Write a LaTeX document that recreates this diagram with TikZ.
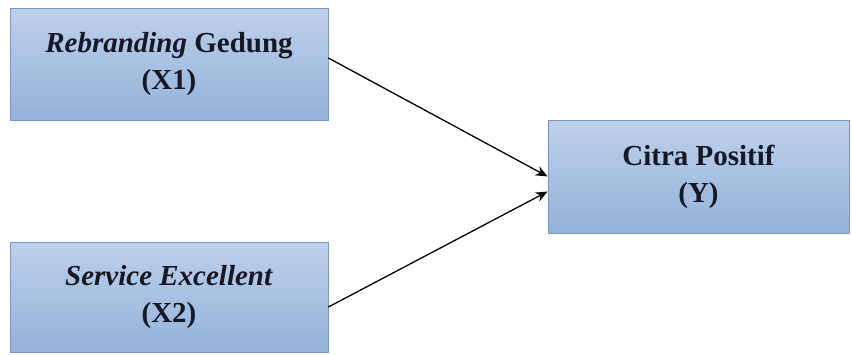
\documentclass[tikz,border=0pt]{standalone}
\usepackage{fontspec}
\setmainfont{Liberation Serif}
\definecolor{boxtop}{RGB}{190,208,236}
\definecolor{boxbottom}{RGB}{147,178,216}
\definecolor{boxline}{RGB}{118,150,196}
\definecolor{boxtext}{RGB}{22,24,38}
\usetikzlibrary{arrows.meta, positioning, calc}

\begin{document}
\begin{tikzpicture}[
    x=1pt, y=-1pt,
    varbox/.style={draw=boxline, line width=0.8pt, top color=boxtop, bottom color=boxbottom, minimum width=318pt, minimum height=112pt, align=center, text=boxtext, font=\fontsize{29}{37}\selectfont\bfseries, inner sep=0pt},
    >={Stealth[length=12pt, width=10pt]}
]
  \useasboundingbox (0, 0) rectangle (852, 354);

  \node[varbox] (x1) at (169, 64) {\textit{Rebranding} Gedung\\(X1)};
  
  \node[varbox, minimum height=110pt] (x2) at (169, 297) {\textit{Service Excellent}\\(X2)};
  
  \node[varbox, minimum width=301pt, minimum height=113pt] (y) at (698.5, 176.5) {Citra Positif\\(Y)};
  
  \draw[->, line width=1.3pt] ($(x1.east)+(0, -6)$) -- (y.west);
  \draw[->, line width=1.3pt] ($(x2.east)+(0, 10)$) -- ($(y.west)+(0, 15)$);
\end{tikzpicture}
\end{document}
